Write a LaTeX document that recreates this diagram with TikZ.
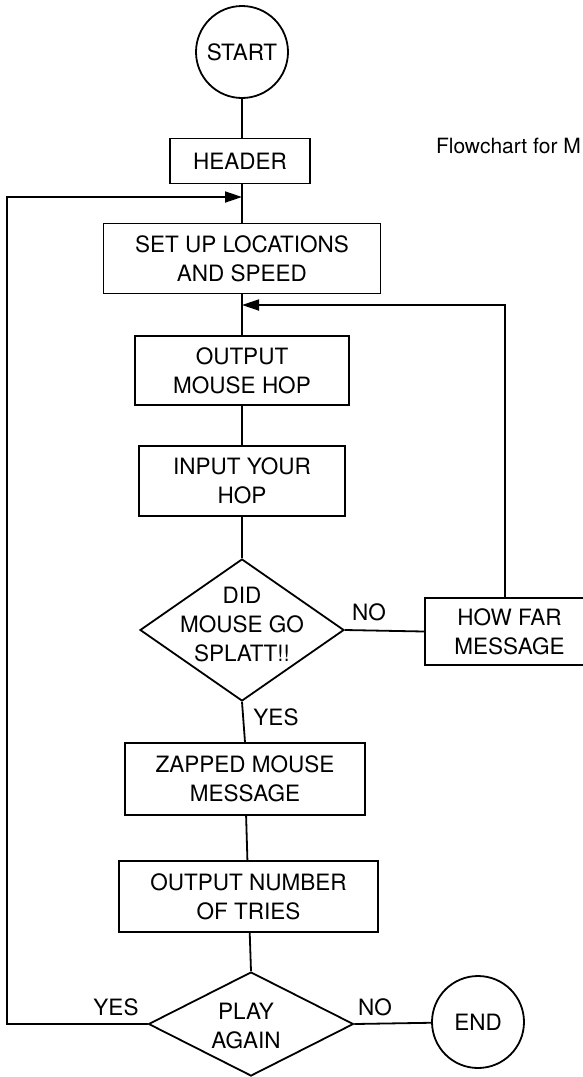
\documentclass[tikz,border=0pt]{standalone}
\usepackage{fontspec}
\setmainfont{TeX Gyre Heros}
\usetikzlibrary{shapes.geometric,arrows.meta}
\begin{document}
\begin{tikzpicture}[x=1pt,y=-1pt,
  lw/.style={line width=1.8pt},
  txtfont/.style={font=\fontsize{22.5}{29}\selectfont},
  box/.style={draw, rectangle, lw, align=center, inner sep=0pt, txtfont},
  term/.style={draw, circle, lw, minimum size=92pt, inner sep=0pt, txtfont},
  dia/.style={draw, diamond, lw, inner sep=0pt},
  txt/.style={align=center, inner sep=0pt, txtfont},
  lbl/.style={inner sep=0pt, txtfont},
  conn/.style={lw},
  arr/.style={lw, -{Triangle[length=17pt,width=11pt]}},
]
\useasboundingbox (0,0) rectangle (583,1077);
\clip (0,0) rectangle (583,1077);
\fill[white] (0,0) rectangle (583,1077);

\node[term] (startc) at (242,52) {START};
\node[box, minimum width=140pt, minimum height=45pt] (header) at (240,161) {HEADER};
\node[box, minimum width=277pt, minimum height=70pt] (setup) at (242,258.5) {SET UP LOCATIONS\\AND SPEED};
\node[box, minimum width=214pt, minimum height=69pt] (outhop) at (242,370.5) {OUTPUT\\MOUSE HOP};
\node[box, minimum width=206pt, minimum height=70pt] (inhop) at (242,481) {INPUT YOUR\\HOP};
\node[dia, minimum width=204pt, minimum height=142pt] (splat) at (242,630) {};
\node[txt] (splatt) at (242,624) {DID\\MOUSE GO\\SPLATT!!};
\node[box, minimum width=169pt, minimum height=67pt] (howfar) at (509.5,631.5) {HOW FAR\\MESSAGE};
\node[box, minimum width=240pt, minimum height=72pt] (zapped) at (245,779) {ZAPPED MOUSE\\MESSAGE};
\node[box, minimum width=259pt, minimum height=71pt] (tries) at (248.5,896.5) {OUTPUT NUMBER\\OF TRIES};
\node[dia, minimum width=205pt, minimum height=104pt] (again) at (251,1024) {};
\node[txt] (againt) at (246,1025.5) {PLAY\\AGAIN};
\node[term] (endc) at (478,1022) {END};

\node[lbl] (no1) at (369,612) {NO};
\node[lbl] (yes1) at (276,717) {YES};
\node[lbl] (yes2) at (116,1007) {YES};
\node[lbl] (no2) at (375,1007) {NO};
\node[font=\fontsize{21}{25}\selectfont, anchor=east, inner sep=0pt] (cap) at (581,146) {Flowchart for M};

\coordinate (j1) at (242,197);
\coordinate (lc) at (7,197);
\coordinate (j2) at (242,305);
\coordinate (rc) at (505,305);

\draw[conn] (startc) -- (startc |- header.north);
\draw[conn] (startc |- header.south) -- (setup);
\draw[conn] (setup) -- (outhop);
\draw[conn] (outhop) -- (inhop);
\draw[conn] (inhop) -- (splat.north);
\draw[conn] (splat.south) -- (zapped.north);
\draw[conn] (zapped) -- (tries);
\draw[conn] (tries) -- (again.north);
\draw[conn] (splat.east) -- (howfar.west);
\draw[conn] (again.east) -- (endc);
\draw[arr] (again.west) -| (lc) -- (j1);
\draw[arr] (howfar.north -| rc) -- (rc) -- (j2);
\end{tikzpicture}
\end{document}
